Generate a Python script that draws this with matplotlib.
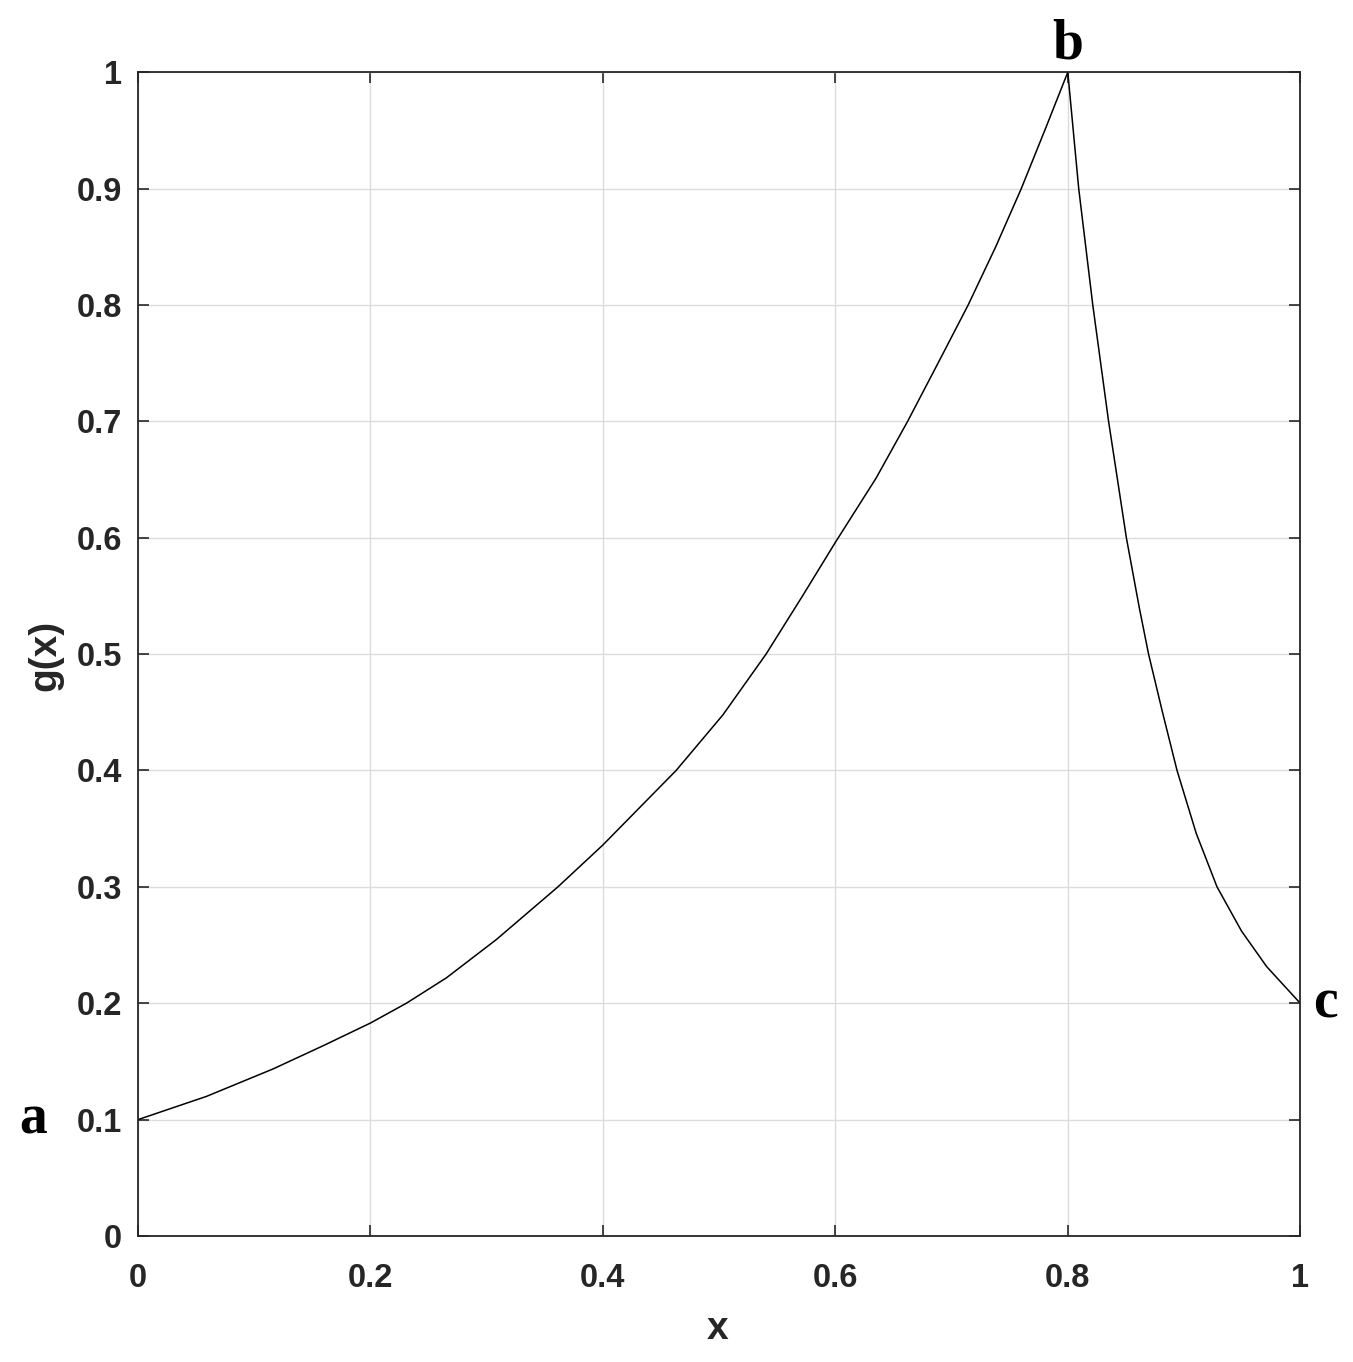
import matplotlib
matplotlib.use('Agg')
from matplotlib import pyplot as plt
import numpy as np

# rising branch a -> b
x_rise = [0.0, 0.059, 0.1163, 0.1593, 0.2, 0.2309, 0.2653, 0.3083, 0.3613, 0.4, 0.463, 0.5032,
          0.5404, 0.5719, 0.6, 0.635, 0.6622, 0.6894, 0.7143, 0.738, 0.76, 0.781, 0.8]
y_rise = [0.1, 0.120, 0.1436, 0.1635, 0.1830, 0.2, 0.2218, 0.2547, 0.3, 0.336, 0.4, 0.4477,
          0.5, 0.5502, 0.596, 0.6511, 0.7, 0.752, 0.8, 0.85, 0.9, 0.952, 1.0]

# falling branch b -> c
x_fall = [0.8, 0.8094, 0.8215, 0.8351, 0.8504, 0.8615, 0.8695, 0.8815, 0.894, 0.9105, 0.9284, 0.9495, 0.9711, 1.0]
y_fall = [1.0, 0.9, 0.8, 0.7, 0.6, 0.54, 0.5, 0.45, 0.4, 0.346, 0.3, 0.262, 0.2315, 0.2]

point_names = ['a', 'b', 'c']
point_x = [0.0, 0.8, 1.0]
point_y = [0.1, 1.0, 0.2]

xticks = [0, 0.2, 0.4, 0.6, 0.8, 1]
yticks = [0, 0.1, 0.2, 0.3, 0.4, 0.5, 0.6, 0.7, 0.8, 0.9, 1]

dark = '#262626'
plt.rcParams['font.family'] = ['Liberation Sans', 'DejaVu Sans']

fig = plt.figure(figsize=(13.53, 13.62), dpi=100)
ax = fig.add_axes([0.102, 0.0925, 0.859, 0.8545])

ax.plot(np.array(x_rise + x_fall[1:]), np.array(y_rise + y_fall[1:]), color='black', linewidth=1.1)

ax.set_xlim(0, 1)
ax.set_ylim(0, 1)
ax.set_xticks(xticks)
ax.set_yticks(yticks)
ax.set_xticklabels([('%g' % t) for t in xticks])
ax.set_yticklabels([('%g' % t) for t in yticks])
ax.grid(True, color='#dcdcdc', linewidth=1.0)
ax.set_axisbelow(True)
ax.tick_params(direction='in', length=8, width=1.2, top=True, right=True,
               colors=dark, labelsize=23.5)
ax.tick_params(axis='x', pad=19.5)
ax.tick_params(axis='y', pad=11.5)
for lab in ax.get_xticklabels() + ax.get_yticklabels():
    lab.set_fontweight('bold')
for s in ax.spines.values():
    s.set_color(dark)
    s.set_linewidth(1.3)

# axis labels
fig.text(718 / 1353, 1 - 1339 / 1362, 'x', ha='center', va='baseline',
         fontsize=28, fontweight='bold', color=dark)
fig.text(45 / 1353, 1 - 655 / 1362, 'g(x)', ha='center', va='center', rotation=90,
         fontsize=28, fontweight='bold', color=dark)

# point labels in Times-like bold serif
ax.annotate(point_names[0], (point_x[0], point_y[0]), xytext=(-75.6, 0), textcoords='offset points',
            ha='center', va='center', fontsize=40, fontweight='bold', family='Liberation Serif',
            annotation_clip=False)
ax.annotate(point_names[1], (point_x[1], point_y[1]), xytext=(0, 1), textcoords='offset points',
            ha='center', va='bottom', fontsize=40, fontweight='bold', family='Liberation Serif',
            annotation_clip=False)
ax.annotate(point_names[2], (point_x[2], point_y[2]), xytext=(18, 0), textcoords='offset points',
            ha='center', va='center', fontsize=40, fontweight='bold', family='Liberation Serif',
            annotation_clip=False)

fig.savefig('out.png', dpi=100)
